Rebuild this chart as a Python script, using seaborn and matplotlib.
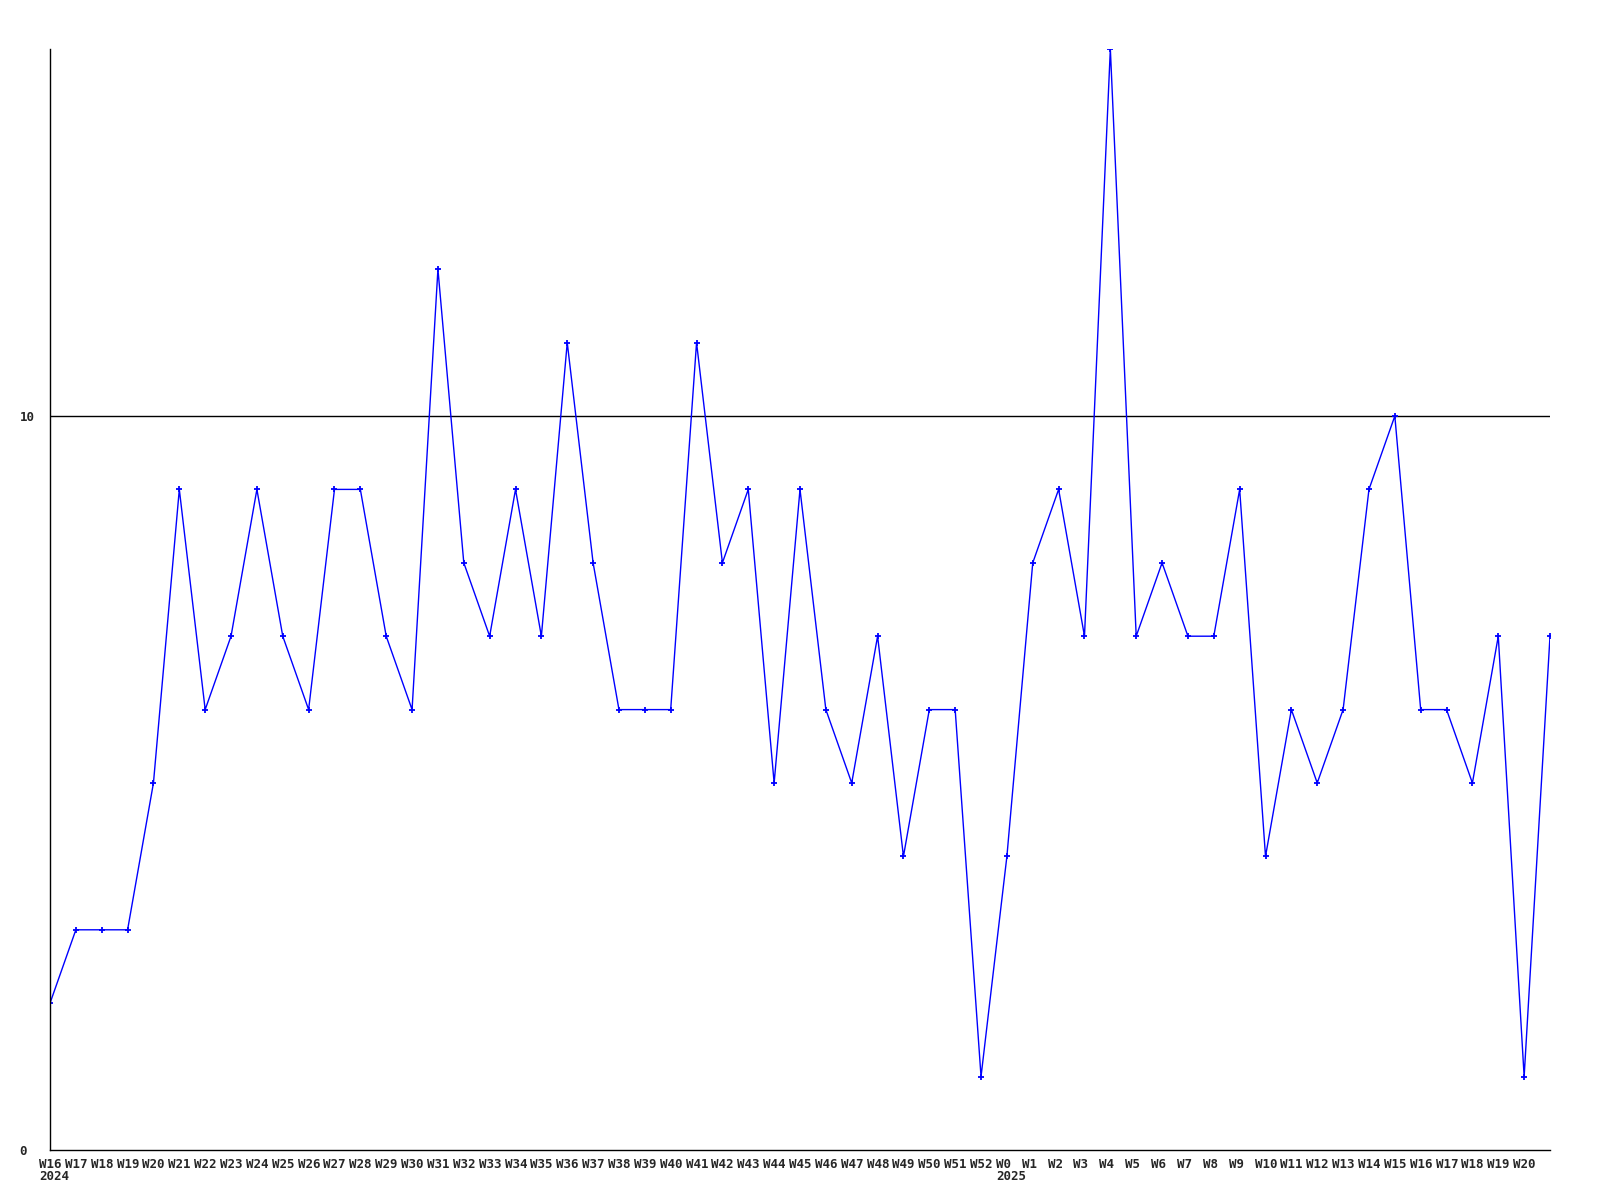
import numpy as np
import pandas as pd
import seaborn as sns
import matplotlib.pyplot as plt
import matplotlib.transforms as mtransforms

# ── Data ───────────────────────────────────────────────────────
weeks_2024 = [f"W{i}" for i in range(16, 53)]
weeks_2025 = [f"W{i}" for i in range(0, 21)]
tick_labels = weeks_2024 + weeks_2025 + [""]
year_labels = {0: "2024", len(weeks_2024): "2025"}

values = [
    2, 3, 3, 3, 5, 9, 6, 7, 9, 7, 6, 9, 9, 7, 6, 12, 8, 7, 9, 7,
    11, 8, 6, 6, 6, 11, 8, 9, 5, 9, 6, 5, 7, 4, 6, 6, 1,
    4, 8, 9, 7, 15, 7, 8, 7, 7, 9, 4, 6, 5, 6, 9, 10, 6, 6, 5, 7, 1,
    7,
]

df = pd.DataFrame({"idx": np.arange(len(values)), "value": values})

# ── Plot ───────────────────────────────────────────────────────
sns.set_style("white")
plt.rcParams["font.family"] = ["DejaVu Sans Mono"]

fig = plt.figure(figsize=(16, 12), dpi=100)
ax = fig.add_axes([50 / 1600, 50 / 1200, 1500 / 1600, 1101 / 1200])

sns.lineplot(data=df, x="idx", y="value", color="#0000ff", linewidth=1,
             marker="+", markersize=4, markeredgewidth=1.3,
             markeredgecolor="#0000ff", ax=ax)

ax.axhline(10, color="black", linewidth=1, zorder=0)

ax.set_xlim(0, len(values) - 1)
ax.set_ylim(0, 15)
ax.set_xticks(df["idx"])
ax.set_xticklabels(tick_labels, fontsize=9, fontweight="bold",
                   ha="left", va="top")
ax.set_yticks([0, 10])
ax.set_yticklabels(["0", "10"], fontsize=9, fontweight="bold", ha="left")
ax.tick_params(axis="x", length=0, pad=6)
ax.tick_params(axis="y", length=0, pad=22)
ax.set_xlabel("")
ax.set_ylabel("")

# labels start a little left of their tick, like the reference
shift = mtransforms.ScaledTranslation(-11 / 100, 0, fig.dpi_scale_trans)
for lbl in ax.get_xticklabels():
    lbl.set_transform(lbl.get_transform() + shift)

# year under the first week of each year
year_tr = mtransforms.blended_transform_factory(ax.transData, ax.transAxes)
for i, yr in year_labels.items():
    ax.text(i, 0, yr, transform=year_tr + shift +
            mtransforms.ScaledTranslation(0, -20 / 100, fig.dpi_scale_trans),
            fontsize=9, fontweight="bold", ha="left", va="top")

for side in ["top", "right"]:
    ax.spines[side].set_visible(False)
for side in ["left", "bottom"]:
    ax.spines[side].set_color("black")
    ax.spines[side].set_linewidth(1)

fig.savefig("out.png", dpi=100)
